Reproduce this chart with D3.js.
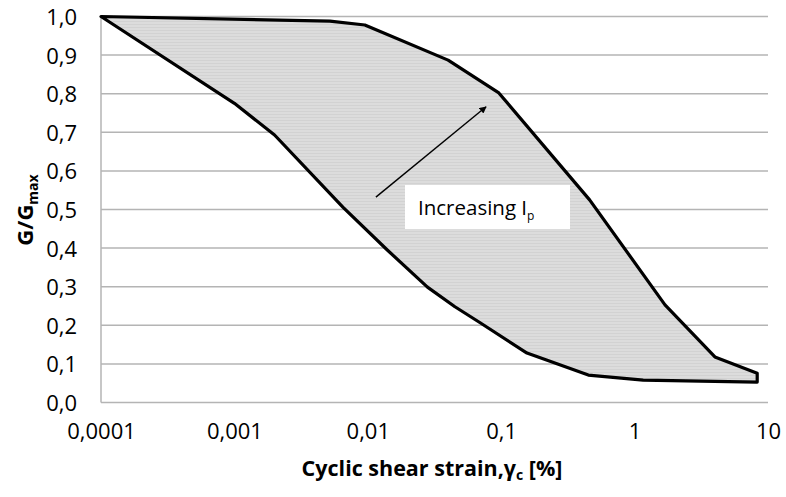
<!DOCTYPE html>
<html>
<head>
<meta charset="utf-8">
<script src="https://cdn.jsdelivr.net/npm/d3@7"></script>
<style>
  html, body { margin: 0; padding: 0; background: #fff; }
  svg { display: block; }
  text { font-family: "Open Sans", "Noto Sans", sans-serif; fill: #000; }
</style>
</head>
<body>
<svg id="chart" width="786" height="497"></svg>
<script>
// ---- data ----
const xTicks = [0.0001, 0.001, 0.01, 0.1, 1, 10];
const xTickLabels = ["0,0001", "0,001", "0,01", "0,1", "1", "10"];
const yTicks = [0, 0.1, 0.2, 0.3, 0.4, 0.5, 0.6, 0.7, 0.8, 0.9, 1.0];
const yTickLabels = ["0,0", "0,1", "0,2", "0,3", "0,4", "0,5", "0,6", "0,7", "0,8", "0,9", "1,0"];

// upper bound (high plasticity)
const upperStrain = [0.0001, 0.0052, 0.0095, 0.04, 0.096, 0.46, 1.69, 4.0, 8.3];
const upperG      = [1.0,    0.988,  0.978,  0.887, 0.802, 0.525, 0.253, 0.118, 0.076];
// lower bound (low plasticity)
const lowerStrain = [0.0001, 0.001, 0.002, 0.0065, 0.014, 0.028, 0.045, 0.07, 0.156, 0.45, 1.16, 8.3];
const lowerG      = [1.0,    0.775, 0.693, 0.506,  0.395, 0.299, 0.248, 0.206, 0.128, 0.071, 0.058, 0.053];

// arrow "Increasing Ip"
const arrowStrain = [0.0115, 0.077];
const arrowG = [0.532, 0.766];

// ---- layout ----
const svg = d3.select("#chart");
const m = { left: 101, top: 16.5, right: 18, bottom: 94.5 };
const W = 786, H = 497;
const iw = W - m.left - m.right, ih = H - m.top - m.bottom;

const x = d3.scaleLog().domain([0.0001, 10]).range([m.left, m.left + iw]);
const y = d3.scaleLinear().domain([0, 1]).range([m.top + ih, m.top]);

// striped fill pattern
const defs = svg.append("defs");
const pat = defs.append("pattern").attr("id", "stripes")
  .attr("patternUnits", "userSpaceOnUse").attr("width", 8).attr("height", 3);
pat.append("rect").attr("width", 8).attr("height", 3).attr("fill", "#dcdcdc");
pat.append("rect").attr("width", 8).attr("height", 1).attr("fill", "#d2d2d2");

// gridlines
svg.append("g").selectAll("line").data(yTicks).join("line")
  .attr("x1", m.left).attr("x2", m.left + iw)
  .attr("y1", d => y(d)).attr("y2", d => y(d))
  .attr("stroke", "#b4b4b4").attr("stroke-width", 1.5);

// left axis line
svg.append("line")
  .attr("x1", m.left).attr("x2", m.left)
  .attr("y1", y(0)).attr("y2", y(1))
  .attr("stroke", "#b4b4b4").attr("stroke-width", 1.5);

// y axis tick labels
const yAxis = d3.axisLeft(y).tickValues(yTicks)
  .tickFormat((d, i) => yTickLabels[i]).tickSize(0).tickPadding(24);
const gy = svg.append("g").attr("transform", `translate(${m.left},0)`).call(yAxis);
gy.select(".domain").remove();
gy.selectAll("text").style("font-size", "22px").attr("dy", "0.36em");

// x axis tick labels
const xAxis = d3.axisBottom(x).tickValues(xTicks)
  .tickFormat((d, i) => xTickLabels[i]).tickSize(0).tickPadding(21);
const gx = svg.append("g").attr("transform", `translate(0,${y(0)})`).call(xAxis);
gx.select(".domain").remove();
gx.selectAll("text").style("font-size", "22px");

// shaded band
const band = upperStrain.map((s, i) => [x(s), y(upperG[i])])
  .concat(lowerStrain.map((s, i) => [x(s), y(lowerG[i])]).reverse());
svg.append("path")
  .attr("d", d3.line()(band) + "Z")
  .attr("fill", "url(#stripes)")
  .attr("stroke", "#000")
  .attr("stroke-width", 3.2)
  .attr("stroke-linejoin", "round");

// arrow
defs.append("marker")
  .attr("id", "ah").attr("viewBox", "0 0 10 10")
  .attr("refX", 9).attr("refY", 5)
  .attr("markerWidth", 8).attr("markerHeight", 7)
  .attr("markerUnits", "userSpaceOnUse")
  .attr("orient", "auto")
  .append("path").attr("d", "M0,0 L10,5 L0,10 Z").attr("fill", "#000");
svg.append("line")
  .attr("x1", x(arrowStrain[0])).attr("y1", y(arrowG[0]))
  .attr("x2", x(arrowStrain[1])).attr("y2", y(arrowG[1]))
  .attr("stroke", "#000").attr("stroke-width", 1.4)
  .attr("marker-end", "url(#ah)");

// label box
svg.append("rect")
  .attr("x", 405).attr("y", 185).attr("width", 165).attr("height", 44)
  .attr("fill", "#fff");
const lbl = svg.append("text").attr("x", 418).attr("y", 215)
  .style("font-size", "20.5px");
lbl.append("tspan").text("Increasing I");
lbl.append("tspan").attr("dy", 5).style("font-size", "12px").text("p");

// x title
const xt = svg.append("text")
  .attr("x", 432).attr("y", 476).attr("text-anchor", "middle")
  .style("font-size", "21.5px").style("font-weight", "bold");
xt.append("tspan").text("Cyclic shear strain,γ");
xt.append("tspan").attr("dy", 4).style("font-size", "14px").text("c");
xt.append("tspan").attr("dy", -4).text(" [%]");

// y title
const yt = svg.append("text")
  .attr("transform", "translate(33,210) rotate(-90)")
  .attr("text-anchor", "middle")
  .style("font-size", "22px").style("font-weight", "bold");
yt.append("tspan").text("G/G");
yt.append("tspan").attr("dy", 5).style("font-size", "14px").text("max");
</script>
</body>
</html>
